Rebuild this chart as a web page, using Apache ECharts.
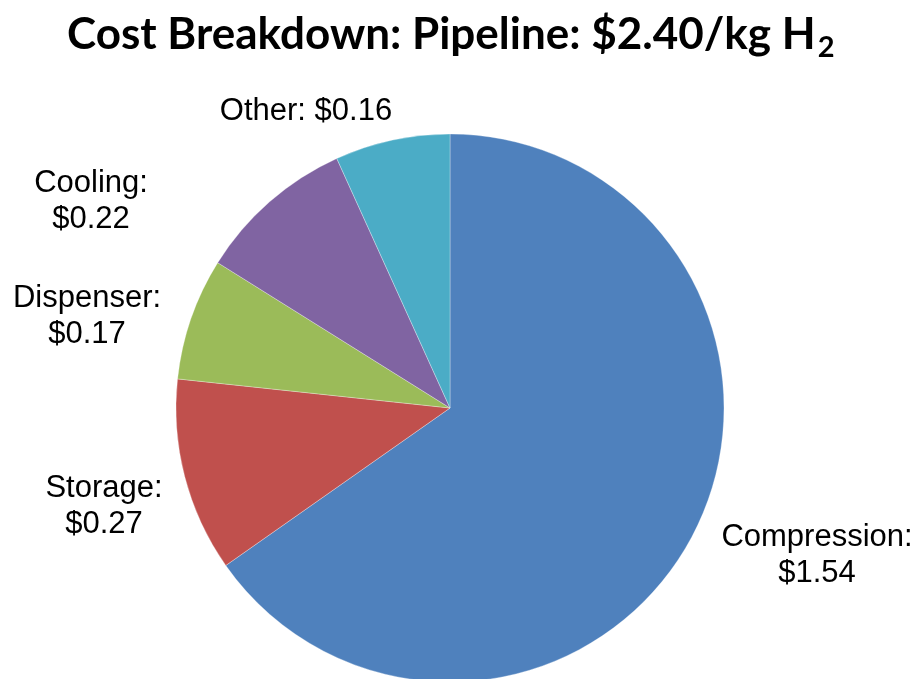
<!DOCTYPE html>
<html>
<head>
<meta charset="utf-8">
<script src="https://cdn.jsdelivr.net/npm/echarts@6/dist/echarts.min.js"></script>
<style>html,body{margin:0;padding:0;background:#fff;}#chart{width:919px;height:679px;}</style>
</head>
<body>
<div id="chart"></div>
<script>
const categories = ['Compression', 'Storage', 'Dispenser', 'Cooling', 'Other'];
const costs = [1.54, 0.27, 0.17, 0.22, 0.16];
const colors = ['#4F81BD', '#C0504D', '#9BBB59', '#8064A2', '#4BACC6'];
// label anchor positions (layout only)
const labelPos = {
  Compression: [817, 555, '\n'],
  Storage: [104, 506, '\n'],
  Dispenser: [87, 316, '\n'],
  Cooling: [91, 201, '\n'],
  Other: [306, 111, ' ']
};

const chart = echarts.init(document.getElementById('chart'));
chart.setOption({
  animation: false,
  title: {
    text: 'Cost Breakdown: Pipeline: $2.40/kg H{sub|2}',
    left: 62,
    top: 2,
    textStyle: {
      fontFamily: 'Lato',
      fontWeight: 'bold',
      fontSize: 44,
      color: '#000',
      rich: {
        sub: { fontFamily: 'Lato', fontWeight: 'bold', fontSize: 29, verticalAlign: 'bottom', padding: [26, 0, 0, 2], color: '#000' }
      }
    }
  },
  series: [{
    type: 'pie',
    center: [450, 408],
    radius: 274,
    startAngle: 90,
    clockwise: true,
    data: categories.map((c, i) => ({ name: c, value: costs[i], itemStyle: { color: colors[i] } })),
    itemStyle: { borderColor: 'rgba(255,255,255,0.6)', borderWidth: 0.5 },
    label: {
      show: true,
      position: 'outside',
      formatter: p => p.name + ':' + labelPos[p.name][2] + '$' + p.value.toFixed(2),
      fontFamily: 'Liberation Sans',
      fontSize: 31,
      lineHeight: 36,
      color: '#000',
      align: 'center',
      overflow: 'none',
      width: 300,
      edgeDistance: 0
    },
    labelLine: { show: false },
    labelLayout: function (params) {
      const name = categories[params.dataIndex];
      const pos = labelPos[name];
      return { x: pos[0], y: pos[1], align: 'center', verticalAlign: 'middle' };
    }
  }]
});
</script>
</body>
</html>
